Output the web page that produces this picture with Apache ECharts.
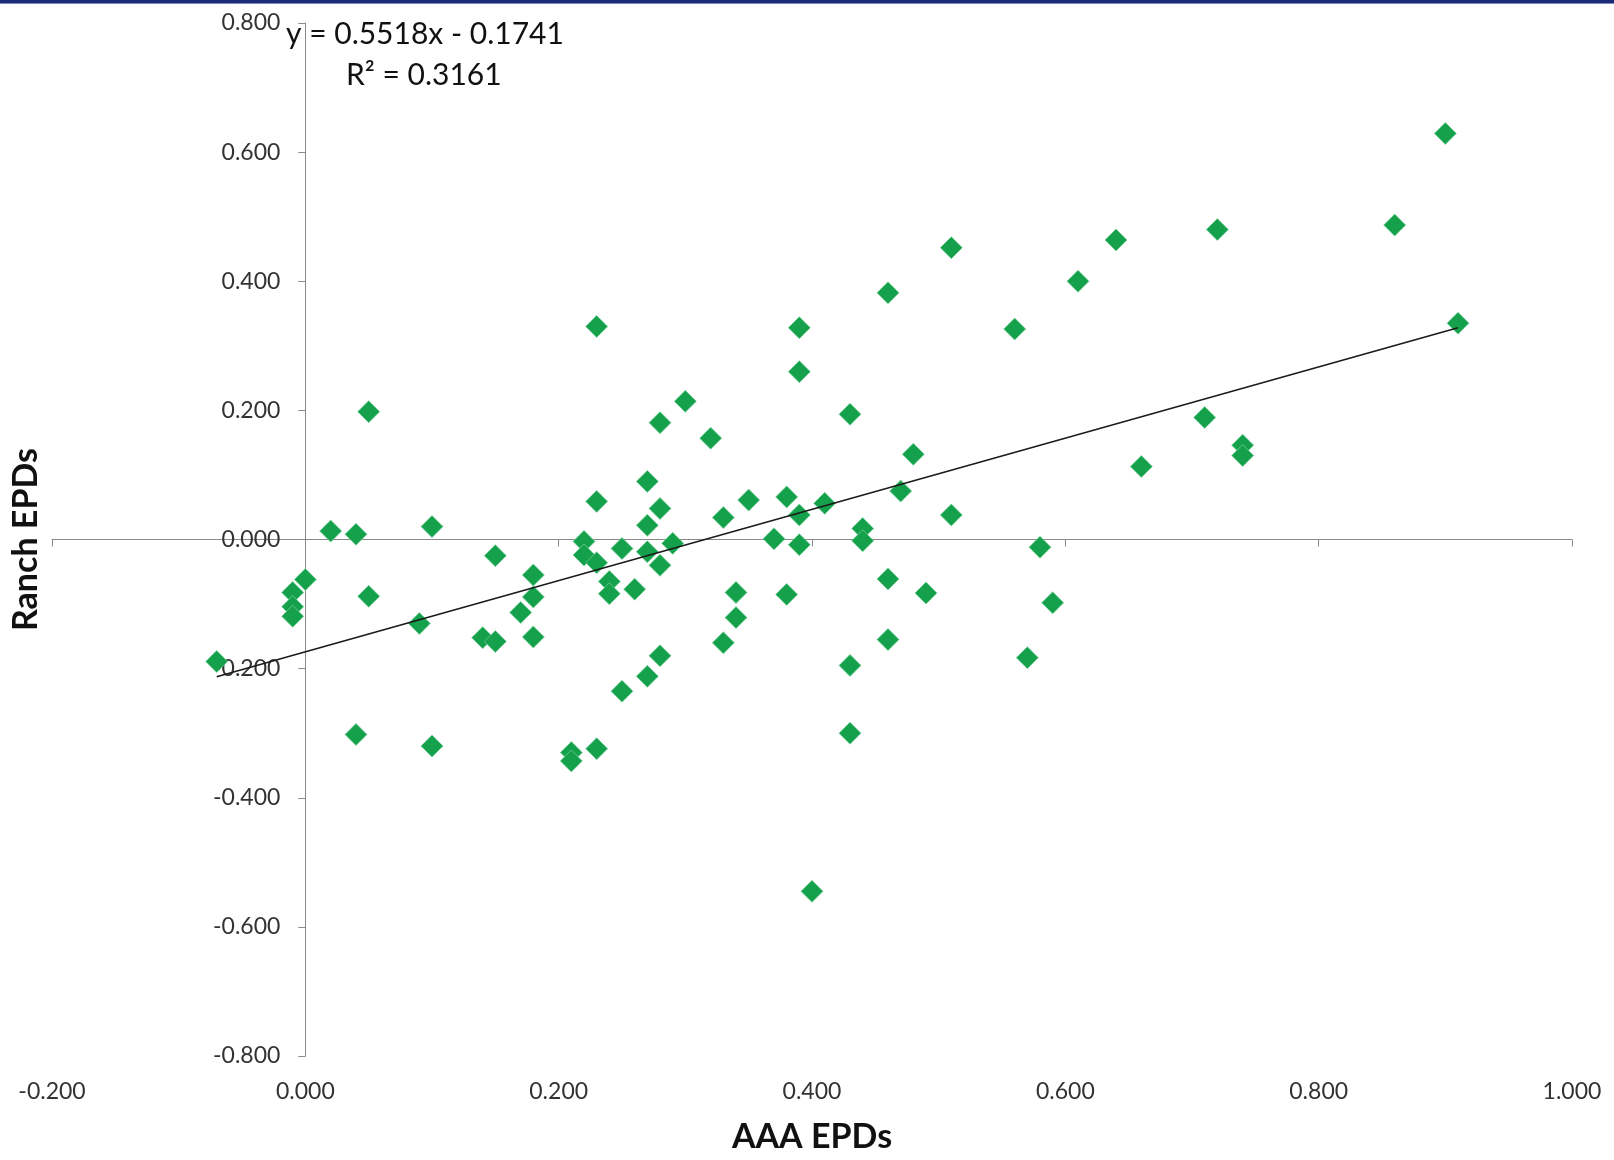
<!DOCTYPE html>
<html>
<head>
<meta charset="utf-8">
<title>AAA vs Ranch EPDs</title>
<script src="https://cdn.jsdelivr.net/npm/echarts@6/dist/echarts.min.js"></script>
<style>
html,body{margin:0;padding:0;background:#fff;}
#chart{width:1614px;height:1160px;}
</style>
</head>
<body>
<div id="chart"></div>
<script>
// ---- data ----
const aaaEpds = [
  -0.07, -0.01, -0.01, -0.01, 0.00, 0.02, 0.04, 0.05, 0.05, 0.04,
  0.09, 0.10, 0.10, 0.14, 0.15, 0.15, 0.17, 0.18, 0.18, 0.18,
  0.21, 0.21, 0.22, 0.22, 0.23, 0.23, 0.23, 0.23, 0.24, 0.24,
  0.25, 0.25, 0.26, 0.27, 0.27, 0.27, 0.27, 0.28, 0.28, 0.28,
  0.28, 0.29, 0.30, 0.32, 0.33, 0.33, 0.34, 0.34, 0.35, 0.37,
  0.38, 0.38, 0.39, 0.39, 0.39, 0.39, 0.40, 0.41, 0.43, 0.43,
  0.43, 0.44, 0.44, 0.46, 0.46, 0.46, 0.47, 0.48, 0.49, 0.51,
  0.51, 0.56, 0.57, 0.58, 0.59, 0.61, 0.64, 0.66, 0.71, 0.72,
  0.74, 0.74, 0.86, 0.90, 0.91
];
const ranchEpds = [
  -0.189, -0.082, -0.104, -0.119, -0.062, 0.013, 0.008, 0.198, -0.088, -0.302,
  -0.130, 0.020, -0.320, -0.152, -0.158, -0.025, -0.113, -0.055, -0.089, -0.151,
  -0.330, -0.343, -0.003, -0.024, 0.330, 0.059, -0.036, -0.324, -0.065, -0.084,
  -0.014, -0.235, -0.077, 0.090, 0.022, -0.019, -0.212, 0.181, 0.048, -0.040,
  -0.180, -0.006, 0.214, 0.157, 0.034, -0.160, -0.082, -0.121, 0.061, 0.001,
  0.066, -0.085, 0.328, 0.260, 0.038, -0.008, -0.545, 0.056, 0.194, -0.195,
  -0.300, 0.017, -0.002, 0.382, -0.061, -0.155, 0.075, 0.132, -0.083, 0.452,
  0.038, 0.326, -0.183, -0.012, -0.098, 0.400, 0.464, 0.113, 0.189, 0.480,
  0.146, 0.130, 0.487, 0.629, 0.335
];
const trendSlope = 0.5518;
const trendIntercept = -0.1741;
const equationText = 'y = 0.5518x - 0.1741';
const rSquaredText = 'R\u00B2 = 0.3161';
const xAxisRange = [-0.2, 1.0];
const yAxisRange = [-0.8, 0.8];
const tickStep = 0.2;
const xAxisTitle = 'AAA EPDs';
const yAxisTitle = 'Ranch EPDs';

// ---- build ----
const points = aaaEpds.map((x, i) => [x, ranchEpds[i]]);
const xMin = Math.min(...aaaEpds), xMax = Math.max(...aaaEpds);
const trendLine = [[xMin, trendSlope * xMin + trendIntercept], [xMax, trendSlope * xMax + trendIntercept]];

const FONT = 'Lato, "Noto Sans", sans-serif';
const AXIS_COLOR = '#898989';
const fmt = v => (Math.abs(v) < 1e-9 ? 0 : v).toFixed(3);

const GRID = {left: 52, right: 42, top: 23, bottom: 104};
const gridWidth = 1614 - GRID.left - GRID.right;
// put the vertical axis (line, ticks, labels) where x = 0, as the original does
const yAxisOffset = -gridWidth * (0 - xAxisRange[0]) / (xAxisRange[1] - xAxisRange[0]);

const chart = echarts.init(document.getElementById('chart'), null, {renderer: 'canvas'});
chart.setOption({
  animation: false,
  backgroundColor: '#ffffff',
  textStyle: {fontFamily: FONT},
  grid: Object.assign({containLabel: false, outerBoundsMode: 'none'}, GRID),
  xAxis: [
    {
      type: 'value', min: xAxisRange[0], max: xAxisRange[1], interval: tickStep,
      position: 'bottom',
      axisLine: {show: true, onZero: true, lineStyle: {color: AXIS_COLOR, width: 1}},
      axisTick: {show: true, length: 7, inside: false, lineStyle: {color: AXIS_COLOR, width: 1}},
      axisLabel: {show: false},
      splitLine: {show: false}
    },
    {
      type: 'value', min: xAxisRange[0], max: xAxisRange[1], interval: tickStep,
      position: 'bottom',
      axisLine: {show: false, onZero: false},
      axisTick: {show: false},
      axisLabel: {show: true, margin: 24, fontSize: 23, color: '#333333', fontFamily: FONT,
                  formatter: fmt, showMinLabel: true, showMaxLabel: true},
      splitLine: {show: false},
      name: xAxisTitle, nameLocation: 'middle', nameGap: 64,
      nameTextStyle: {fontSize: 34, fontWeight: 'bold', color: '#111111', fontFamily: FONT}
    }
  ],
  yAxis: [{
    type: 'value', min: yAxisRange[0], max: yAxisRange[1], interval: tickStep,
    position: 'left', offset: yAxisOffset,
    axisLine: {show: true, onZero: false, lineStyle: {color: AXIS_COLOR, width: 1}},
    axisTick: {show: true, length: 7, inside: false, lineStyle: {color: AXIS_COLOR, width: 1}},
    axisLabel: {show: true, margin: 25, fontSize: 23, color: '#333333', fontFamily: FONT,
                formatter: fmt, showMinLabel: true, showMaxLabel: true},
    splitLine: {show: false},
    name: yAxisTitle, nameLocation: 'middle', nameGap: 262, nameRotate: 90,
    nameTextStyle: {fontSize: 34, fontWeight: 'bold', color: '#111111', fontFamily: FONT}
  }],
  series: [
    {
      name: 'EPDs', type: 'scatter', xAxisIndex: 0, yAxisIndex: 0,
      symbol: 'diamond', symbolSize: 22,
      itemStyle: {color: '#15a04b', borderColor: 'rgba(120,210,155,0.9)', borderWidth: 0.8, opacity: 1},
      data: points, z: 2
    },
    {
      name: 'Linear trend', type: 'line', xAxisIndex: 0, yAxisIndex: 0,
      symbol: 'none', silent: true,
      lineStyle: {color: '#1a1a1a', width: 1.5},
      data: trendLine, z: 5
    }
  ],
  graphic: [
    {type: 'rect', left: 0, top: 0, shape: {width: 1614, height: 3}, style: {fill: '#1d2a78'}, z: 10},
    {type: 'rect', left: 0, top: 3, shape: {width: 1614, height: 1}, style: {fill: '#7d8cc0'}, z: 10},
    {type: 'text', x: 286, y: 34, z: 10,
     style: {text: equationText, fontSize: 30, fontFamily: FONT, fill: '#111111', verticalAlign: 'middle', align: 'left'}},
    {type: 'text', x: 346, y: 75, z: 10,
     style: {text: rSquaredText, fontSize: 30, fontFamily: FONT, fill: '#111111', verticalAlign: 'middle', align: 'left'}}
  ]
});
</script>
</body>
</html>
